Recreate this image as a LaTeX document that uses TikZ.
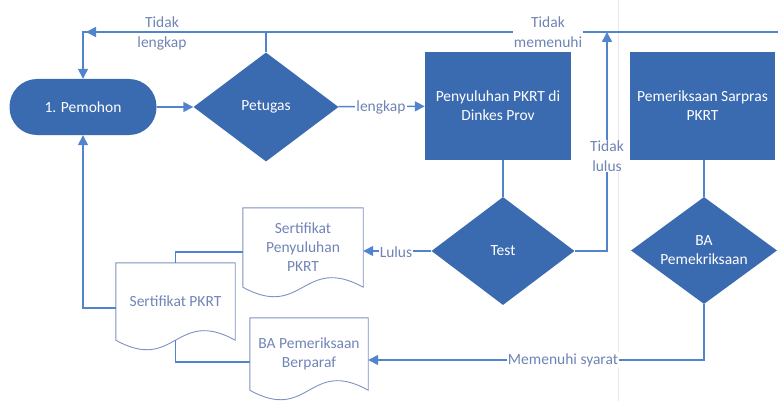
\documentclass[tikz,border=0pt]{standalone}
\usepackage{fontspec}
\setmainfont{Carlito}
\usetikzlibrary{shapes.geometric,arrows.meta,calc}
\definecolor{fblue}{RGB}{58,106,176}
\definecolor{lblue}{RGB}{82,132,206}
\definecolor{dtext}{RGB}{112,132,182}
\definecolor{dline}{RGB}{125,145,195}
\definecolor{ltext}{RGB}{110,132,180}
\definecolor{faint}{RGB}{240,226,236}
\newcommand\docoutline[1]{%
  \draw[dline, line width=0.9pt] (#1.south west) -- (#1.north west) -- (#1.north east) -- (#1.south east)
    .. controls ($(#1.south east)!0.5!(#1.south west)+(0,-33)$) and ($(#1.south east)!0.5!(#1.south west)+(0,33)$) .. (#1.south west);}
\tikzset{
  proc/.style={rectangle, fill=fblue, text=white, align=center, inner sep=2pt},
  dec/.style={diamond, aspect=1.33, fill=fblue, text=white, align=center, inner sep=0pt},
  term/.style={rectangle, rounded corners=27.5pt, fill=fblue, text=white},
  docbox/.style={rectangle, text=dtext, align=center, inner sep=2pt},
  conn/.style={draw=lblue, line width=1.5pt},
  arr/.style={-{Triangle[length=10pt,width=10pt]}},
  lab/.style={text=ltext, align=center, inner sep=1pt},
  labw/.style={lab, fill=white},
}
\begin{document}
\begin{tikzpicture}[x=1pt, y=-1pt, font=\fontsize{15.5}{19}\selectfont]
\useasboundingbox (0,0) rectangle (778,401);
\draw[faint, line width=0.8pt] (618,0) -- (618,401);

% nodes
\node[term, minimum width=147pt, minimum height=56pt] (pem) at (83,107) {1. Pemohon};
\node[dec, minimum width=145pt, minimum height=109pt] (pet) at (266,107) {Petugas};
\node[proc, minimum width=146pt, minimum height=108pt] (pen) at (498,106) {Penyuluhan PKRT di\\Dinkes Prov};
\node[proc, minimum width=145pt, minimum height=108pt] (sar) at (702.5,106) {Pemeriksaan Sarpras\\PKRT};
\node[dec, minimum width=143pt, minimum height=108pt] (test) at (503,251) {Test};
\node[dec, minimum width=146pt, minimum height=107pt] (bad) at (704,250.5) {BA\\Pemekriksaan};
\node[docbox, minimum width=120pt, minimum height=79pt] (sp) at (303,247.5) {Sertifikat\\Penyuluhan\\PKRT};
\node[docbox, minimum width=119pt, minimum height=77pt] (spk) at (175.5,301.5) {Sertifikat PKRT};
\node[docbox, minimum width=118pt, minimum height=72pt] (ba) at (309,354) {BA Pemeriksaan\\Berparaf};
\docoutline{sp}
\docoutline{spk}
\docoutline{ba}

\coordinate (tl) at (83,32);
\coordinate (tr) at (778,32);
\coordinate (tlup) at (607,32);

% connectors
\draw[conn, arr] (pem) -- (pet);
\draw[conn, arr] (pet) -- (pen);
\draw[conn] (pet.north) -- (pet.north |- tl);
\draw[conn, arr] (tr) -- (tl) -- (pem.north);
\draw[conn, arr] ($(tl)+(16,0)$) -- ($(tl)+(3,0)$);
\draw[conn] (test.north |- pen.south) -- (test.north);
\draw[conn] (bad.north |- sar.south) -- (bad.north);
\draw[conn, arr] (test.east) -- (tlup |- test.east) -- (tlup);
\draw[conn, arr] (test.west) -- (sp.east |- test.west);
\draw[conn] ([yshift=-4.5pt]sp.west) -| (spk.north);
\draw[conn, arr] ([yshift=-6.5pt]spk.west) -| (pem.south);
\draw[conn] ([yshift=-8pt]ba.west) -| (spk.south);
\draw[conn, arr] (bad.south) |- ([yshift=-6pt]ba.east);

% labels
\node[lab] (l1) at (162,33) {Tidak\\[1pt]lengkap};
\node[labw] (l2) at (548,32) {Tidak\\[1pt]memenuhi};
\node[labw] (l3) at (381,107) {lengkap};
\node[labw] (l4) at (607,156) {Tidak\\[1pt]lulus};
\node[labw] (l5) at (396,252) {Lulus};
\node[labw] (l6) at (563,360) {Memenuhi syarat};
\end{tikzpicture}
\end{document}
